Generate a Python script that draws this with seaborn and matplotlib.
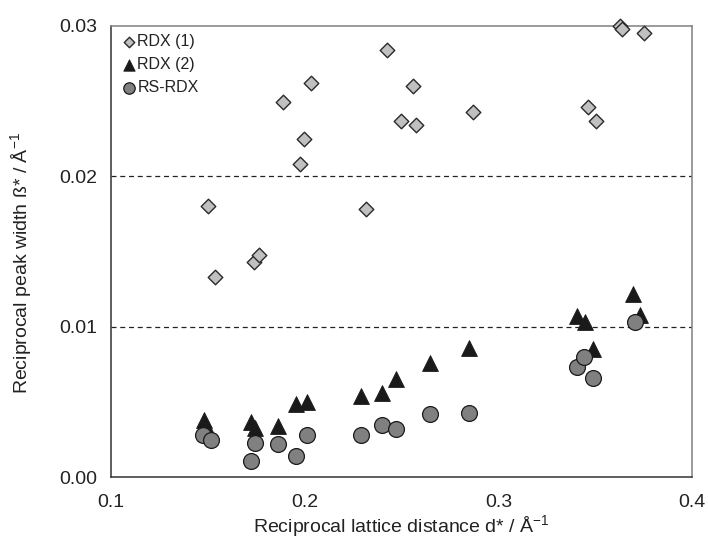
import matplotlib
matplotlib.use("Agg")
import matplotlib.pyplot as plt
import seaborn as sns

# ── Data ───────────────────────────────────────────────────────────────────
rdx1_x = [0.150, 0.1537, 0.1738, 0.1766, 0.1886, 0.1978, 0.1995, 0.2032,
          0.2316, 0.2423, 0.2497, 0.2560, 0.2574, 0.2869, 0.3463, 0.3506,
          0.3630, 0.3640, 0.3752]
rdx1_y = [0.0180, 0.0133, 0.0143, 0.0148, 0.0249, 0.0208, 0.0225, 0.0262,
          0.0178, 0.0284, 0.0237, 0.0260, 0.0234, 0.0243, 0.0246, 0.0237,
          0.0300, 0.0298, 0.0295]

rdx2_x = [0.1479, 0.1510, 0.1721, 0.1743, 0.1863, 0.1955, 0.2013, 0.2292,
          0.2400, 0.2474, 0.2646, 0.2849, 0.3406, 0.3446, 0.3489, 0.3696,
          0.3731]
rdx2_y = [0.0038, 0.0029, 0.0037, 0.0033, 0.0034, 0.0049, 0.0050, 0.0054,
          0.0056, 0.0065, 0.0076, 0.0086, 0.0107, 0.0103, 0.0085, 0.0122,
          0.0108]

rs_x = [0.1476, 0.1514, 0.1722, 0.1743, 0.1863, 0.1955, 0.2013, 0.2292,
        0.2400, 0.2474, 0.2646, 0.2849, 0.3406, 0.3442, 0.3489, 0.3707]
rs_y = [0.0028, 0.0025, 0.0011, 0.0023, 0.0022, 0.0014, 0.0028, 0.0028,
        0.0035, 0.0032, 0.0042, 0.0043, 0.0073, 0.0080, 0.0066, 0.0103]

x_ticks = [0.1, 0.2, 0.3, 0.4]
y_ticks = [0.00, 0.01, 0.02, 0.03]
x_tick_labels = ["0.1", "0.2", "0.3", "0.4"]
y_tick_labels = ["0.00", "0.01", "0.02", "0.03"]

sns.set_theme(style="white")
plt.rcParams["font.family"] = ["Liberation Sans", "DejaVu Sans"]
plt.rcParams["mathtext.fontset"] = "custom"
plt.rcParams["mathtext.rm"] = "Liberation Sans"

fig = plt.figure(figsize=(7.08, 5.40), dpi=100)
ax = fig.add_axes([0.1568, 0.1161, 0.8206, 0.8363])

# dashed reference lines behind the markers
for yv in [0.01, 0.02]:
    ax.axhline(yv, color="#222222", lw=0.9, ls=(0, (4, 3)), zorder=1)

sns.scatterplot(x=rdx1_x, y=rdx1_y, marker="D", s=55, color="#c0c0c0",
                edgecolor="#2a2a2a", linewidth=1.0, label="RDX (1)", ax=ax,
                zorder=3, clip_on=False)
sns.scatterplot(x=rdx2_x, y=rdx2_y, marker="^", s=130, color="#1a1a1a",
                edgecolor="#1a1a1a", linewidth=0.6, label="RDX (2)", ax=ax,
                zorder=3, clip_on=False)
sns.scatterplot(x=rs_x, y=rs_y, marker="o", s=130, color="#808080",
                edgecolor="#1a1a1a", linewidth=0.9, label="RS-RDX", ax=ax,
                zorder=4, clip_on=False)

ax.set_xlim(0.1, 0.4)
ax.set_ylim(0.0, 0.03)
ax.set_xticks(x_ticks)
ax.set_xticklabels(x_tick_labels)
ax.set_yticks(y_ticks)
ax.set_yticklabels(y_tick_labels)
ax.tick_params(axis="both", direction="out", length=4, width=1,
               color="#333333", labelsize=14, labelcolor="#222222", pad=6)
ax.tick_params(axis="x", pad=8)

ax.set_xlabel("Reciprocal lattice distance d* / Å$^{-1}$", fontsize=14,
              color="#222222")
ax.set_ylabel("Reciprocal peak width ß* / Å$^{-1}$", fontsize=14,
              color="#222222")
ax.xaxis.set_label_coords(0.5, -0.079)
ax.yaxis.set_label_coords(-0.13, 0.475)

for side in ["left", "bottom"]:
    ax.spines[side].set_color("#333333")
    ax.spines[side].set_linewidth(1.1)
for side in ["top", "right"]:
    ax.spines[side].set_color("#808080")
    ax.spines[side].set_linewidth(1.1)

leg = ax.legend(loc="upper left", frameon=False, fontsize=11.5,
                handletextpad=0.0, borderaxespad=0.15, labelspacing=0.5,
                handlelength=1.1, markerscale=0.72)
for t in leg.get_texts():
    t.set_color("#222222")

fig.savefig("out.png", dpi=100)
